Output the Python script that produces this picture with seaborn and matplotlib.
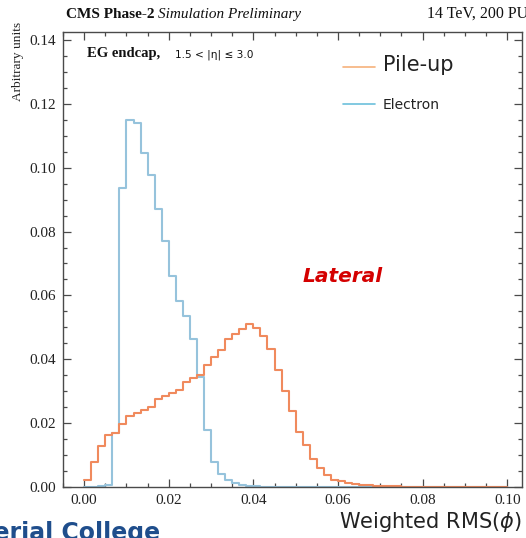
import numpy as np
import pandas as pd
import matplotlib
matplotlib.use("Agg")
import matplotlib.pyplot as plt
from matplotlib.lines import Line2D
from matplotlib.ticker import MultipleLocator
import seaborn as sns

# 60 bins of weighted RMS(phi) between 0 and 0.1
bin_edges = np.linspace(0.0, 0.1, 61)

pileup = [
    0.0022, 0.0079, 0.0129, 0.0163, 0.0170, 0.0196, 0.0223, 0.0232, 0.0241, 0.0251,
    0.0275, 0.0286, 0.0294, 0.0304, 0.0328, 0.0341, 0.0352, 0.0382, 0.0407, 0.0430,
    0.0465, 0.0479, 0.0496, 0.0511, 0.0499, 0.0474, 0.0432, 0.0367, 0.0302, 0.0239,
    0.0173, 0.0132, 0.0088, 0.0059, 0.0038, 0.0023, 0.0018, 0.0013, 0.0008, 0.0005,
    0.0005, 0.0004, 0.0003, 0.0002, 0.0002, 0.0001, 0.0001, 0.0001, 0.0, 0.0,
    0.0, 0.0, 0.0, 0.0, 0.0, 0.0, 0.0, 0.0, 0.0, 0.0,
]
electron = [
    0.0, 0.0, 0.0002, 0.0006, 0.0168, 0.0936, 0.1150, 0.1140, 0.1046, 0.0978,
    0.0872, 0.0769, 0.0662, 0.0584, 0.0535, 0.0465, 0.0346, 0.0180, 0.0079, 0.0041,
    0.0021, 0.0012, 0.0006, 0.0003, 0.0002, 0.0001, 0.0001, 0.0, 0.0, 0.0,
    0.0, 0.0, 0.0, 0.0, 0.0, 0.0, 0.0, 0.0, 0.0, 0.0,
    0.0, 0.0, 0.0, 0.0, 0.0, 0.0, 0.0, 0.0, 0.0, 0.0,
    0.0, 0.0, 0.0, 0.0, 0.0, 0.0, 0.0, 0.0, 0.0, 0.0,
]
series_names = ["Pile-up", "Electron"]
x_ticks = [0.00, 0.02, 0.04, 0.06, 0.08, 0.10]
y_ticks = [0.00, 0.02, 0.04, 0.06, 0.08, 0.10, 0.12, 0.14]

line_colors = {"Pile-up": "#f08a5d", "Electron": "#96c3dc"}
legend_colors = {"Pile-up": "#f6b27c", "Electron": "#6cc0dc"}

centers = 0.5 * (bin_edges[:-1] + bin_edges[1:])
df = pd.concat([
    pd.DataFrame({"rms": centers, "w": pileup, "sample": "Pile-up"}),
    pd.DataFrame({"rms": centers, "w": electron, "sample": "Electron"}),
], ignore_index=True)

sns.set_theme(style="ticks")
plt.rcParams["font.family"] = ["Liberation Serif", "DejaVu Serif"]

W, H = 526, 538
fig = plt.figure(figsize=(W / 100, H / 100), dpi=100)
ax = fig.add_axes([63 / W, 1 - 487 / H, (522 - 63) / W, (487 - 32) / H])

sns.histplot(data=df, x="rms", weights="w", hue="sample", bins=list(bin_edges),
             element="step", fill=False, palette=line_colors,
             hue_order=series_names, legend=False, linewidth=1.5, ax=ax)

ax.set_xlim(-0.005, 0.1035)
ax.set_ylim(0, 0.1425)
ax.set_xticks(x_ticks)
ax.set_yticks(y_ticks)
ax.set_xticklabels([f"{v:.2f}" for v in x_ticks])
ax.set_yticklabels([f"{v:.2f}" for v in y_ticks])
ax.xaxis.set_minor_locator(MultipleLocator(0.005))
ax.yaxis.set_minor_locator(MultipleLocator(0.005))
ax.tick_params(which="both", direction="in", top=True, right=True,
               color="#4a4a4a", labelsize=11, labelcolor="#222222", width=0.9)
ax.tick_params(which="major", length=6, pad=5)
ax.tick_params(which="minor", length=3)
for sp in ax.spines.values():
    sp.set_color("#4a4a4a")
    sp.set_linewidth(1.0)
ax.set_xlabel("")
ax.set_ylabel("")
fig.text(18 / W, 1 - 22 / H, "Arbitrary units", rotation=90, fontsize=9.6,
         color="#222222", ha="center", va="top")

# legend with different text sizes per entry
handles = [Line2D([], [], color=legend_colors[n], lw=1.2) for n in series_names]
leg = ax.legend(handles, series_names, loc="upper left", bbox_to_anchor=(0.582, 0.976),
                frameon=False, handlelength=2.3, handletextpad=0.6, labelspacing=1.6,
                prop={"family": "DejaVu Sans", "size": 10})
leg.get_texts()[0].set_fontsize(15)
for t in leg.get_texts():
    t.set_color("#222222")

# header texts
fig.canvas.draw()
renderer = fig.canvas.get_renderer()
t1 = fig.text(66 / W, 1 - 18 / H, "CMS Phase-2", fontsize=11, fontweight="bold",
              color="#111111", va="baseline")
bb = t1.get_window_extent(renderer)
fig.text((bb.x1 + 4) / W, 1 - 18 / H, "Simulation Preliminary", fontsize=11,
         style="italic", color="#111111", va="baseline")
fig.text(427 / W, 1 - 18 / H, "14 TeV, 200 PU", fontsize=11.5, color="#111111", va="baseline")

fig.text(87 / W, 1 - 57 / H, "EG endcap,", fontsize=10.5, fontweight="bold",
         color="#111111", va="baseline")
fig.text(175 / W, 1 - 57 / H, "1.5 < |η| ≤ 3.0", fontsize=7.6,
         family="DejaVu Sans", color="#111111", va="baseline")

ax.text(0.610, 0.463, "Lateral", transform=ax.transAxes, fontsize=14.5, color="#d40000",
        fontweight="bold", style="italic", family="DejaVu Sans", ha="center", va="center")

fig.text(522 / W, 1 - 528 / H, r"Weighted RMS($\phi$)", fontsize=15,
         family="DejaVu Sans", color="#222222", ha="right", va="baseline")
fig.text(160 / W, 1 - 521 / H, "Imperial College", fontsize=17, fontweight="bold",
         family="DejaVu Sans", color="#1f4e8c", ha="right", va="top")

fig.savefig("out.png", dpi=100)
